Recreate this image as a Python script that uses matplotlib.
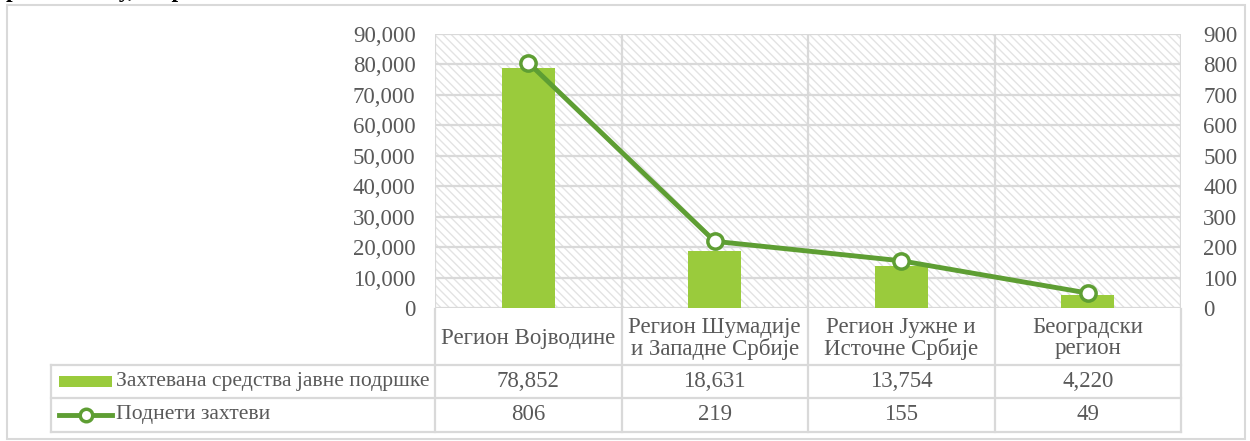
import matplotlib
matplotlib.use("Agg")
import matplotlib.pyplot as plt
from matplotlib.patches import Rectangle
from matplotlib.lines import Line2D
from matplotlib.ticker import FuncFormatter, MultipleLocator
import numpy as np

plt.rcParams["font.family"] = ["Liberation Serif", "DejaVu Serif"]
plt.rcParams["hatch.linewidth"] = 1.0

# data
regions = ["Регион Војводине", "Регион Шумадије\nи Западне Србије",
           "Регион Јужне и\nИсточне Србије", "Београдски\nрегион"]
funds = [78852, 18631, 13754, 4220]        # left axis
requests = [806, 219, 155, 49]             # right axis
funds_label = "Захтевана средства јавне подршке"
requests_label = "Поднети захтеви"

BAR = "#9acb3c"
LINE = "#5e9e33"
GRID = "#d9d9d9"
TXT = "#595959"
FS = 16.5

W, H = 1250, 441
fig = plt.figure(figsize=(W / 100, H / 100), dpi=100)

# pixel helpers (origin top-left)
def fx(px):
    return px / W

def fy(py):
    return 1 - py / H

# outer frame
fig.patches.append(Rectangle((fx(7), fy(439)), fx(1245) - fx(7), fy(4.5) - fy(439),
                             transform=fig.transFigure, fill=False,
                             edgecolor=GRID, lw=1.5))
# heading line above the frame, cut off by the top edge as in the source
fig.text(fx(6), fy(-2.5), "регионалну, по регионима", fontsize=17, fontweight="bold",
         ha="left", va="baseline", color="black")

ax_l, ax_r, ax_t, ax_b = 435, 1181, 34, 308
ax = fig.add_axes([fx(ax_l), fy(ax_b), fx(ax_r) - fx(ax_l), fy(ax_t) - fy(ax_b)])
ax2 = ax.twinx()

n = len(regions)
x = np.arange(n)
ax.set_xlim(-0.5, n - 0.5)
ax.set_ylim(0, 90000)
ax2.set_ylim(0, 900)

# hatched background
ax.add_patch(Rectangle((0, 0), 1, 1, transform=ax.transAxes, facecolor="white",
                       edgecolor="#e3e3e3", hatch="\\\\\\\\", lw=0, zorder=0))
for v in range(0, 90001, 10000):
    ax.axhline(v, color=GRID, lw=1.6, zorder=1)
for b in np.arange(-0.5, n, 1.0):
    ax.axvline(b, color=GRID, lw=1.6, zorder=1)

ax.bar(x, funds, width=0.285, color=BAR, zorder=2)
ax2.plot(x, requests, color=LINE, lw=3.5, marker="o", markersize=11,
         markerfacecolor="white", markeredgecolor=LINE, markeredgewidth=2.5,
         zorder=3, clip_on=False)

for a in (ax, ax2):
    for s in a.spines.values():
        s.set_visible(False)
    a.tick_params(length=0, labelsize=FS, labelcolor=TXT)
ax.set_xticks([])
ax.yaxis.set_major_locator(MultipleLocator(10000))
ax.yaxis.set_major_formatter(FuncFormatter(lambda v, p: f"{int(v):,}"))
ax.tick_params(axis="y", pad=14)
ax2.yaxis.set_major_locator(MultipleLocator(100))
ax2.tick_params(axis="y", pad=16)

# data table below the plot
rows = [309, 364.5, 398, 432]
tab_left = 51
line_kw = dict(transform=fig.transFigure, color=GRID, lw=1.6)
for r in rows[1:]:
    fig.lines.append(Line2D([fx(tab_left), fx(ax_r)], [fy(r), fy(r)], **line_kw))
fig.lines.append(Line2D([fx(tab_left), fx(tab_left)], [fy(rows[1]), fy(rows[3])], **line_kw))
bounds = ax_l + (np.arange(n + 1)) * (ax_r - ax_l) / n
for b in bounds:
    fig.lines.append(Line2D([fx(b), fx(b)], [fy(rows[0]), fy(rows[3])], **line_kw))

centers = (bounds[:-1] + bounds[1:]) / 2
for c, name, f, q in zip(centers, regions, funds, requests):
    fig.text(fx(c), fy((rows[0] + rows[1]) / 2 + 1.5), name, ha="center", va="center",
             fontsize=FS, color=TXT, linespacing=1.0)
    fig.text(fx(c), fy((rows[1] + rows[2]) / 2), f"{f:,}", ha="center", va="center",
             fontsize=FS, color=TXT)
    fig.text(fx(c), fy((rows[2] + rows[3]) / 2), f"{q:,}", ha="center", va="center",
             fontsize=FS, color=TXT)

# legend keys inside the table
y1 = (rows[1] + rows[2]) / 2
y2 = (rows[2] + rows[3]) / 2
fig.patches.append(Rectangle((fx(59), fy(y1 + 5.5)), fx(112) - fx(59), fy(y1 - 5.5) - fy(y1 + 5.5),
                             transform=fig.transFigure, facecolor=BAR, edgecolor="none"))
fig.lines.append(Line2D([fx(59), fx(112)], [fy(y2), fy(y2)], transform=fig.transFigure,
                        color=LINE, lw=3.5))
fig.lines.append(Line2D([fx(85.5)], [fy(y2)], transform=fig.transFigure, marker="o",
                        markersize=9, markerfacecolor="white", markeredgecolor=LINE,
                        markeredgewidth=2.5, lw=0))
fig.text(fx(116), fy(y1), funds_label, ha="left", va="center", fontsize=15.6, color=TXT)
fig.text(fx(116), fy(y2), requests_label, ha="left", va="center", fontsize=15.6, color=TXT)

fig.savefig("out.png", dpi=100)
